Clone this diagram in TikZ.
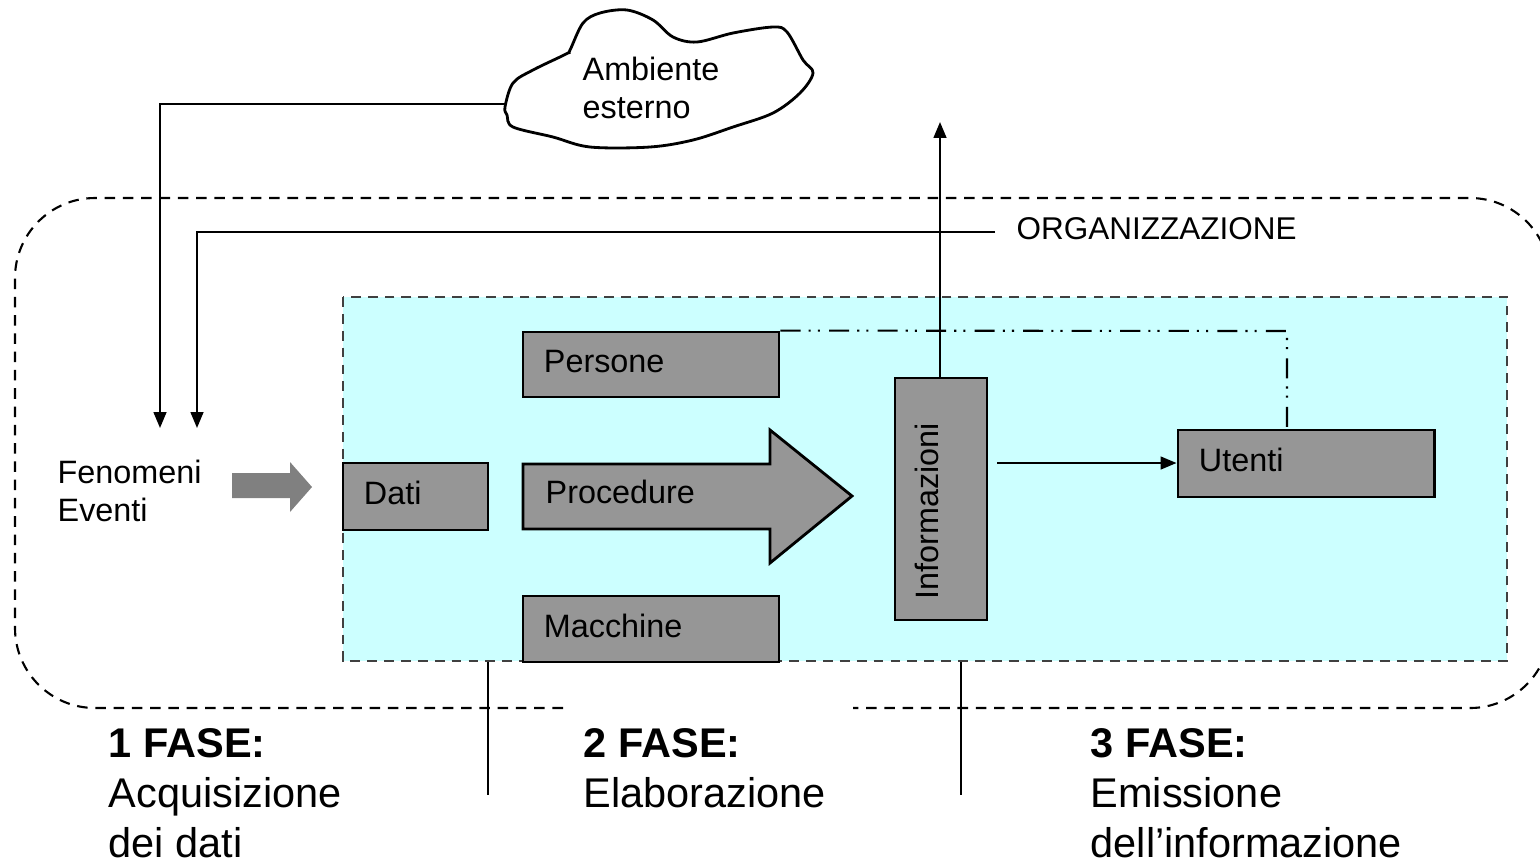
\documentclass[tikz,border=0pt]{standalone}
\usepackage{fontspec}
\setmainfont{Liberation Sans}
\usetikzlibrary{arrows.meta}
\definecolor{cyanbg}{HTML}{CCFFFF}
\definecolor{boxgray}{HTML}{969696}
\definecolor{arrgray}{HTML}{808080}
\definecolor{dashgray}{HTML}{404040}
\begin{document}
\begin{tikzpicture}[x=0.01cm,y=-0.01cm,
  small/.style={font=\fontsize{9.2}{10.8}\selectfont},
  big/.style={font=\fontsize{11.8}{14.2}\selectfont, align=left, anchor=base west, inner sep=0},
  box/.style={draw, line width=0.8pt, fill=boxgray, small, align=left, inner xsep=0.21cm, inner ysep=0, text height=6.8pt, text depth=2.2pt},
  arr/.style={-{Triangle[length=4.5pt,width=3.6pt]}, line width=0.6pt},
  outerdash/.style={line width=0.6pt, dash pattern=on 3pt off 2.2pt},
  cyandash/.style={draw=dashgray, line width=0.6pt, dash pattern=on 2.8pt off 2pt},
  dashdotdot/.style={line width=0.6pt, dash pattern=on 5.7pt off 2.3pt on 0.6pt off 2pt on 0.6pt off 2.6pt},
  plain/.style={line width=0.6pt}]
\useasboundingbox (0,0) rectangle (1540,863);

% outer organisation boundary (with gap at bottom)
\draw[outerdash, rounded corners=0.8cm] (563,708) -- (15,708) -- (15,198) -- (1550,198) -- (1550,708) -- (853,708);

% cloud
\draw[plain, line width=0.8pt] plot[smooth cycle, tension=0.55] coordinates {
  (505,107) (513,83) (533,70) (566,54) (570,50) (583,23) (600,13) (627,10) (653,20) (673,37)
  (697,42) (733,33) (773,27) (787,32) (803,60) (813,73) (800,93) (773,113) (733,127)
  (693,140) (650,147) (590,147) (553,137) (513,127) (507,115)};
\node[small, align=left, anchor=west, inner sep=0] (amb) at (582,88) {Ambiente\\esterno};
\coordinate (cloudw) at (505,104);

% inner information system area
\fill[cyanbg] (343,297) rectangle (1507,661);
\draw[cyandash] (343,297) rectangle (1507,661);

% boxes
\node[box, text width=2.14cm, minimum height=0.65cm] (pers) at (651,364.5) {Persone};
\node[box, text width=1.03cm, minimum height=0.67cm] (dati) at (415.5,496.5) {Dati};
\node[box, text width=2.14cm, minimum height=0.66cm] (macc) at (651,629) {Macchine};
\node[box, text width=2.14cm, minimum height=0.67cm] (uten) at (1306,463.5) {Utenti};
\node[draw, line width=0.8pt, fill=boxgray, minimum width=0.92cm, minimum height=2.42cm, inner sep=0] (info) at (941,499) {};
\node[small, rotate=90, inner sep=0] (infot) at (927,511) {Informazioni};

% procedure block arrow
\draw[line width=0.8pt, fill=boxgray] (523,464) -- (770,464) -- (770,430) -- (852,496) -- (770,563) -- (770,529) -- (523,529) -- cycle;
\node[small, anchor=west, inner sep=0] (proc) at (545,492) {Procedure};

% fenomeni
\node[small, align=left, anchor=west, inner sep=0] (fen) at (57,491) {Fenomeni\\Eventi};
\fill[arrgray] (232,473) -- (290,473) -- (290,462) -- (312,487) -- (290,512) -- (290,498) -- (232,498) -- cycle;

% connectors
\coordinate (t1) at (160,428);
\coordinate (t2) at (197,428);
\coordinate (orgw) at (995,232);
\coordinate (up) at (940,122);
\coordinate (ddc) at (1287,331);
\coordinate (ins) at (997,463);
\draw[arr] (cloudw) -- (t1 |- cloudw) -- (t1);
\draw[arr] (orgw) -- (t2 |- orgw) -- (t2);
\draw[arr] (info.north -| up) -- (up);
\draw[arr] (ins) -- (uten.west |- ins);
\draw[dashdotdot] (pers.north east) -- (ddc) -- (ddc |- uten.north);

\node[font=\fontsize{8.95}{10.8}\selectfont, anchor=west, inner sep=0] (org) at (1016,229) {ORGANIZZAZIONE};

% phase dividers
\draw[line width=0.7pt] (488,662) -- (488,795);
\draw[line width=0.7pt] (961,662) -- (961,795);

% phase labels (base anchor = baseline of last line)
\node[big] (f1) at (108,857) {\textbf{1 FASE:}\\Acquisizione\\dei dati};
\node[big] (f2) at (583,807) {\textbf{2 FASE:}\\Elaborazione};
\node[big] (f3) at (1090,857) {\textbf{3 FASE:}\\Emissione\\dell’informazione};
\end{tikzpicture}
\end{document}
